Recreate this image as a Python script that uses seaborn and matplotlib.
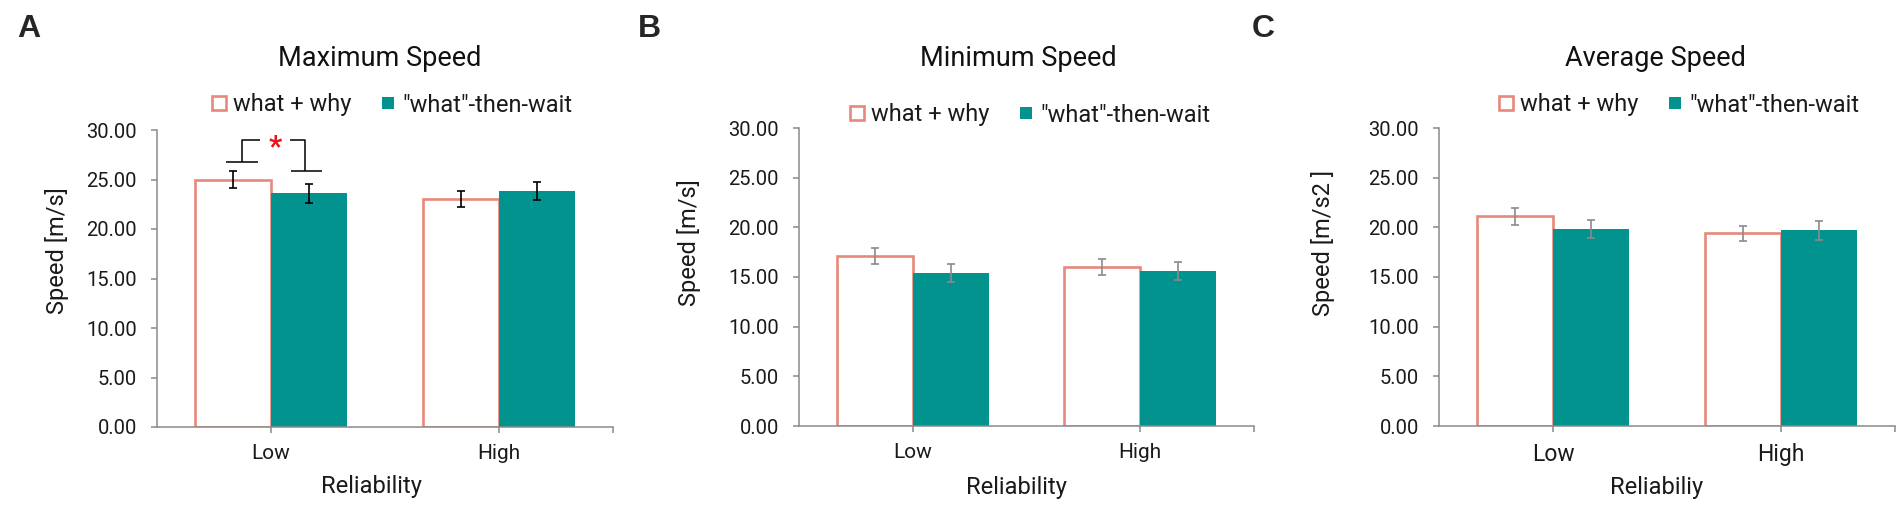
import numpy as np
import pandas as pd
import matplotlib
matplotlib.use('Agg')
import matplotlib.pyplot as plt
from matplotlib.lines import Line2D
import seaborn as sns

# ─────────────────────────────────────────────
# Datos
# ─────────────────────────────────────────────
reliability = ["Low", "High"]
conditions = ["what + why", '"what"-then-wait']

max_whatwhy = [25.0, 23.0]
max_whatwhy_err = [0.85, 0.80]
max_wait = [23.6, 23.8]
max_wait_err = [0.95, 0.90]

min_whatwhy = [17.1, 16.0]
min_whatwhy_err = [0.80, 0.80]
min_wait = [15.4, 15.6]
min_wait_err = [0.90, 0.90]

avg_whatwhy = [21.1, 19.4]
avg_whatwhy_err = [0.85, 0.75]
avg_wait = [19.8, 19.7]
avg_wait_err = [0.90, 0.95]

yticks = [0, 5, 10, 15, 20, 25, 30]

# ─────────────────────────────────────────────
# Estilo
# ─────────────────────────────────────────────
sns.set_theme(style="white")
plt.rcParams['font.family'] = ['Roboto', 'DejaVu Sans']

ORANGE = "#e8887a"
TEAL = "#03938f"
GRIS = "#8a8a8a"
W, H = 1902, 508

fig = plt.figure(figsize=(W / 100, H / 100), dpi=100)


def px_ax(x0, x1, ytop, ybot):
    return [x0 / W, 1 - ybot / H, (x1 - x0) / W, (ybot - ytop) / H]


paneles = [
    dict(rect=px_ax(157, 613, 130, 427), title="Maximum Speed", title_xy=(380, 59),
         leg_xy=(392, 105), ylabel="Speed [m/s]", ylab=(-0.219, 0.593),
         xlabel="Reliability", xlab=(0.471, -0.202), letter="A", letter_x=17,
         ecolor="black", xtick_fs=15,
         vals=(max_whatwhy, max_wait), errs=(max_whatwhy_err, max_wait_err)),
    dict(rect=px_ax(799, 1254, 128, 426), title="Minimum Speed", title_xy=(1018, 59),
         leg_xy=(1030, 115), ylabel="Speed [m/s]", ylab=(-0.242, 0.614),
         xlabel="Reliability", xlab=(0.477, -0.205), letter="B", letter_x=638,
         ecolor=GRIS, xtick_fs=15,
         vals=(min_whatwhy, min_wait), errs=(min_whatwhy_err, min_wait_err)),
    dict(rect=px_ax(1439, 1895, 128, 426), title="Average Speed", title_xy=(1655, 59),
         leg_xy=(1679, 105), ylabel="Speed [m/s2 ]", ylab=(-0.254, 0.614),
         xlabel="Reliabiliy", xlab=(0.478, -0.205), letter="C", letter_x=1252,
         ecolor=GRIS, xtick_fs=16.5,
         vals=(avg_whatwhy, avg_wait), errs=(avg_whatwhy_err, avg_wait_err)),
]

axes = []
for p in paneles:
    ax = fig.add_axes(p["rect"])
    axes.append(ax)

    df = pd.DataFrame({
        "Reliability": reliability * 2,
        "Condition": [conditions[0]] * 2 + [conditions[1]] * 2,
        "Speed": list(p["vals"][0]) + list(p["vals"][1]),
    })
    sns.barplot(data=df, x="Reliability", y="Speed", hue="Condition",
                order=reliability, hue_order=conditions,
                palette={conditions[0]: "white", conditions[1]: TEAL},
                saturation=1, width=0.667, gap=0, errorbar=None, legend=False, ax=ax)

    # barras "what + why": contorno naranja
    for bar in ax.containers[0]:
        bar.set_facecolor("white")
        bar.set_edgecolor(ORANGE)
        bar.set_linewidth(1.9)
    for bar in ax.containers[1]:
        bar.set_facecolor(TEAL)
        bar.set_edgecolor("none")

    # barras de error
    for cont, vals, errs in zip(ax.containers, p["vals"], p["errs"]):
        xs = [b.get_x() + b.get_width() / 2 for b in cont]
        ax.errorbar(xs, vals, yerr=errs, fmt="none", ecolor=p["ecolor"],
                    elinewidth=1.2, capsize=3.2, capthick=1.2, zorder=5)

    ax.set_xlim(-0.5, 1.5)
    ax.set_ylim(0, 30)
    ax.set_yticks(yticks)
    ax.set_yticklabels([f"{v:.2f}" for v in yticks])
    ax.set_xticks([0, 1])
    ax.set_xticks([1.5], minor=True)

    for s in ["top", "right"]:
        ax.spines[s].set_visible(False)
    for s in ["left", "bottom"]:
        ax.spines[s].set_color(GRIS)
        ax.spines[s].set_linewidth(1.1)

    ax.tick_params(axis="y", which="both", left=True, direction="out", length=4.5,
                   width=1.1, color=GRIS, labelsize=14.5, labelcolor="#1a1a1a", pad=10)
    ax.tick_params(axis="x", which="both", bottom=True, direction="out", length=4.5,
                   width=1.1, color=GRIS, labelsize=p["xtick_fs"], labelcolor="#1a1a1a", pad=8)

    ax.set_xlabel(p["xlabel"], fontsize=17, color="#1a1a1a")
    ax.xaxis.set_label_coords(*p["xlab"])
    ax.xaxis.label.set_va("center")
    ax.set_ylabel(p["ylabel"], fontsize=17, color="#1a1a1a")
    ax.yaxis.set_label_coords(*p["ylab"])
    ax.yaxis.label.set_va("center")

    # título y letra del panel
    tx, ty = p["title_xy"]
    fig.text(tx / W, 1 - ty / H, p["title"], ha="center", va="center",
             fontsize=19.5, color="#111111")
    fig.text(p["letter_x"] / W, 1 - 37 / H, p["letter"], ha="left", va="baseline",
             fontsize=23, fontweight="bold", family=["Liberation Sans", "DejaVu Sans"])

    # leyenda
    handles = [
        Line2D([], [], ls="none", marker="s", markersize=9.5, markerfacecolor="white",
               markeredgecolor=ORANGE, markeredgewidth=1.9),
        Line2D([], [], ls="none", marker="s", markersize=8, markerfacecolor=TEAL,
               markeredgecolor=TEAL, markeredgewidth=0),
    ]
    lx, ly = p["leg_xy"]
    ax.legend(handles, conditions, loc="center", ncol=2, frameon=False,
              bbox_to_anchor=(lx / W, 1 - ly / H), bbox_transform=fig.transFigure,
              fontsize=17, handlelength=0.6, handletextpad=0.3, columnspacing=1.25,
              borderpad=0, borderaxespad=0, labelcolor="#1a1a1a")

# corchetes de significancia (panel A)
axA = axes[0]
kw = dict(color="black", lw=1.1, solid_capstyle="butt", clip_on=False)
axA.plot([-0.197, -0.057], [26.8, 26.8], **kw)
axA.plot([-0.127, -0.127, -0.05], [26.8, 29.0, 29.0], **kw)
axA.plot([0.083, 0.149, 0.149], [29.0, 29.0, 25.9], **kw)
axA.plot([0.088, 0.224], [25.9, 25.9], **kw)
axA.text(0.018, 27.5, "*", color="#e8141c", fontsize=21, fontweight="bold",
         ha="center", va="baseline")

fig.savefig("out.png", dpi=100)
